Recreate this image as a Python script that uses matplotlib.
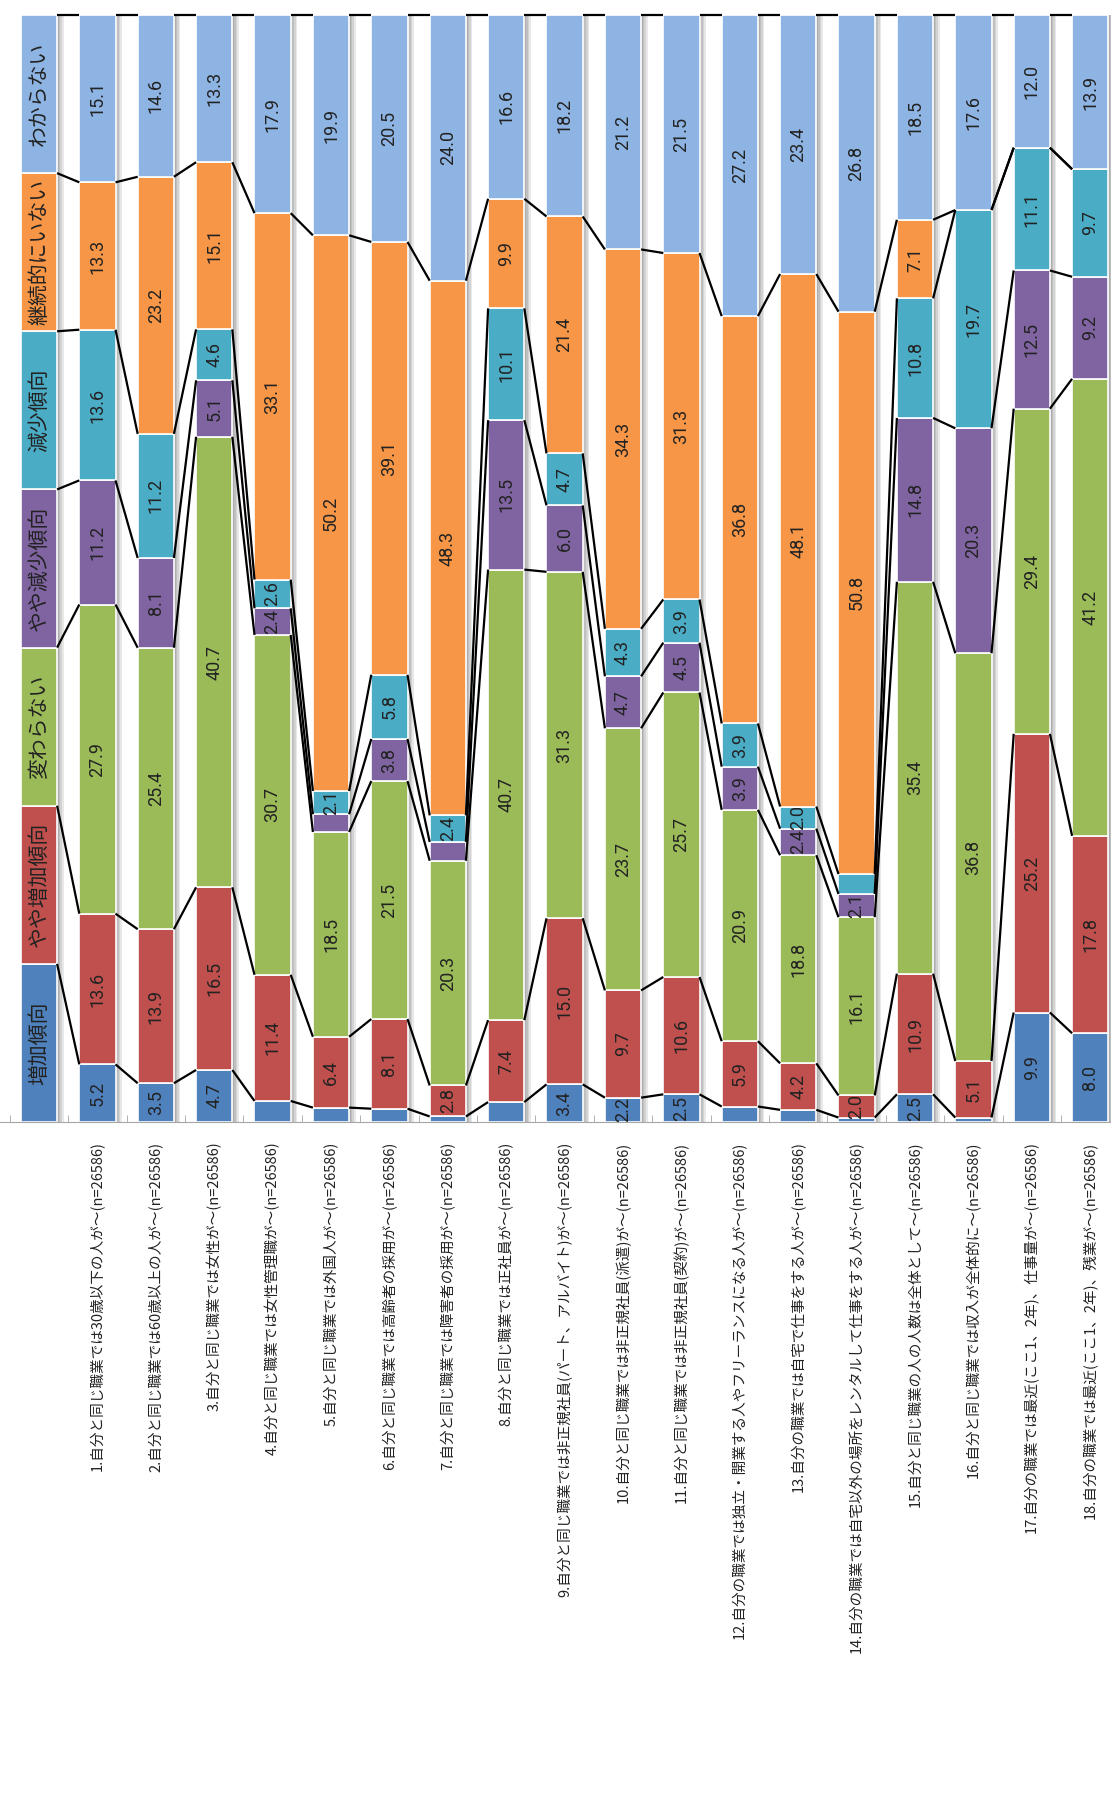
import numpy as np
import matplotlib
matplotlib.use("Agg")
import matplotlib.pyplot as plt
from matplotlib.ticker import FixedLocator

plt.rcParams['font.family'] = ['Noto Sans CJK JP', 'DejaVu Sans']

# series (bottom -> top)
series_names = ["増加傾向", "やや増加傾向", "変わらない", "やや減少傾向",
                "減少傾向", "継続的にいない", "わからない"]
colors = ["#4F81BD", "#C0504D", "#9BBB59", "#8064A2",
          "#4BACC6", "#F79646", "#8EB4E3"]

categories = [
    "1.自分と同じ職業では30歳以下の人が～(n=26586)",
    "2.自分と同じ職業では60歳以上の人が～(n=26586)",
    "3.自分と同じ職業では女性が～(n=26586)",
    "4.自分と同じ職業では女性管理職が～(n=26586)",
    "5.自分と同じ職業では外国人が～(n=26586)",
    "6.自分と同じ職業では高齢者の採用が～(n=26586)",
    "7.自分と同じ職業では障害者の採用が～(n=26586)",
    "8.自分と同じ職業では正社員が～(n=26586)",
    "9.自分と同じ職業では非正規社員(パート、アルバイト)が～(n=26586)",
    "10.自分と同じ職業では非正規社員(派遣)が～(n=26586)",
    "11.自分と同じ職業では非正規社員(契約)が～(n=26586)",
    "12.自分の職業では独立・開業する人やフリーランスになる人が～(n=26586)",
    "13.自分の職業では自宅で仕事をする人が～(n=26586)",
    "14.自分の職業では自宅以外の場所をレンタルして仕事をする人が～(n=26586)",
    "15.自分と同じ職業の人の人数は全体として～(n=26586)",
    "16.自分と同じ職業では収入が全体的に～(n=26586)",
    "17.自分の職業では最近(ここ1、2年)、仕事量が～(n=26586)",
    "18.自分の職業では最近(ここ1、2年)、残業が～(n=26586)",
]

zoka        = [5.2, 3.5, 4.7, 1.9, 1.3, 1.2, 0.5, 1.8, 3.4, 2.2, 2.5, 1.4, 1.1, 0.4, 2.5, 0.4, 9.9, 8.0]
yaya_zoka   = [13.6, 13.9, 16.5, 11.4, 6.4, 8.1, 2.8, 7.4, 15.0, 9.7, 10.6, 5.9, 4.2, 2.0, 10.9, 5.1, 25.2, 17.8]
kawaranai   = [27.9, 25.4, 40.7, 30.7, 18.5, 21.5, 20.3, 40.7, 31.3, 23.7, 25.7, 20.9, 18.8, 16.1, 35.4, 36.8, 29.4, 41.2]
yaya_gensho = [11.2, 8.1, 5.1, 2.4, 1.6, 3.8, 1.7, 13.5, 6.0, 4.7, 4.5, 3.9, 2.4, 2.1, 14.8, 20.3, 12.5, 9.2]
gensho      = [13.6, 11.2, 4.6, 2.6, 2.1, 5.8, 2.4, 10.1, 4.7, 4.3, 3.9, 3.9, 2.0, 1.8, 10.8, 19.7, 11.1, 9.7]
keizoku     = [13.3, 23.2, 15.1, 33.1, 50.2, 39.1, 48.3, 9.9, 21.4, 34.3, 31.3, 36.8, 48.1, 50.8, 7.1, 0.0, 0.0, 0.0]
wakaranai   = [15.1, 14.6, 13.3, 17.9, 19.9, 20.5, 24.0, 16.6, 18.2, 21.2, 21.5, 27.2, 23.4, 26.8, 18.5, 17.6, 12.0, 13.9]

raw = np.array([zoka, yaya_zoka, kawaranai, yaya_gensho, gensho, keizoku, wakaranai])
n_ser, n_cat = raw.shape

# first column works as the legend: 7 equal parts
legend_col = np.full((n_ser, 1), 100.0 / n_ser)
vals = np.hstack([legend_col, raw / raw.sum(axis=0) * 100])
x = np.arange(n_cat + 1)
w = 0.62

fig = plt.figure(figsize=(11.11, 18.04), dpi=100)
px = 1 / 58.4  # one pixel in x data units
ax = fig.add_axes([0, 682 / 1804, 1, (1122 - 15) / 1804])
ax.set_xlim(-39 * px, (1111 - 39) * px)
ax.set_ylim(0, 100)

# soft shadow on the right side of each bar
for k in range(1, 5):
    ax.bar(x + w / 2, 100, width=k * 1.6 * px, align='edge',
           color='black', alpha=0.09, linewidth=0, zorder=1)

bottom = np.zeros(n_cat + 1)
for s in range(n_ser):
    ax.bar(x, vals[s], w, bottom=bottom, color=colors[s],
           edgecolor='white', linewidth=1.2, zorder=2)
    # data labels
    for i in range(1, n_cat + 1):
        v = raw[s, i - 1]
        if v >= 2.0:
            ax.text(x[i], bottom[i] + vals[s, i] / 2, f"{v:.1f}",
                    rotation=90, ha='center', va='center', fontsize=13,
                    family=['Roboto', 'DejaVu Sans'], color='#222222', zorder=4)
    # legend text in first column
    ax.text(x[0], bottom[0] + vals[s, 0] / 2, series_names[s], rotation=90,
            ha='center', va='center', fontsize=15, color='#222222', zorder=4)
    bottom = bottom + vals[s]
    # series lines
    for i in range(n_cat):
        ax.plot([x[i] + w / 2, x[i + 1] - w / 2], [bottom[i], bottom[i + 1]],
                color='black', lw=1.6, zorder=3, clip_on=False,
                solid_capstyle='butt')

for sp in ['top', 'right', 'left']:
    ax.spines[sp].set_visible(False)
ax.spines['bottom'].set_color('#a6a6a6')
ax.set_yticks([])
ax.set_xticks(x[1:])
ax.set_xticklabels(categories, rotation=90, fontsize=10.5, color='#222222')
ax.tick_params(axis='x', which='major', length=0, pad=14)
ax.xaxis.set_minor_locator(FixedLocator(np.arange(-0.5, n_cat + 1, 1)))
ax.tick_params(axis='x', which='minor', direction='in', length=5, color='#a6a6a6')

fig.savefig("out.png", dpi=100)
